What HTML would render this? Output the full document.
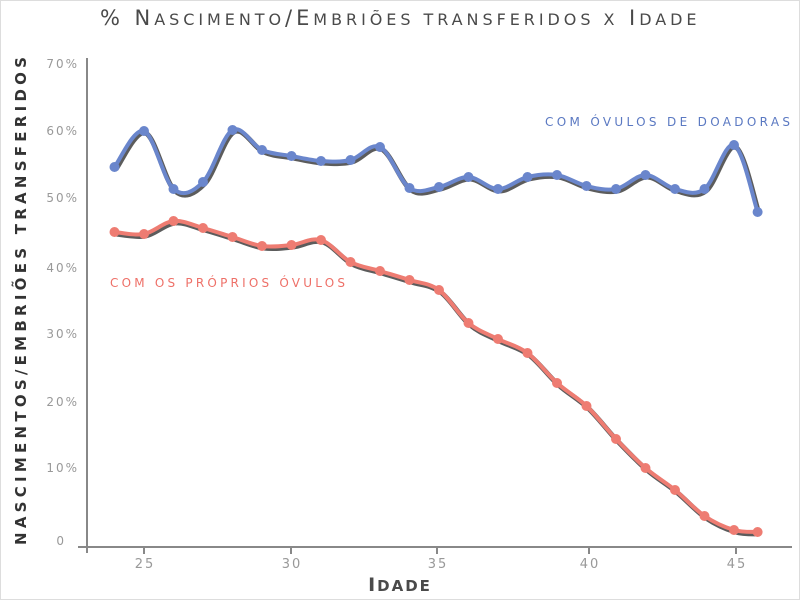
<!DOCTYPE html>
<html><head><meta charset="utf-8"><style>
body{margin:0;background:#fff}
svg{display:block}
text{font-family:"DejaVu Sans","Liberation Sans",sans-serif}
</style></head><body>
<svg id="s" width="800" height="600" viewBox="0 0 800 600" xmlns="http://www.w3.org/2000/svg">
<rect x="0.5" y="0.5" width="799" height="599" fill="#fff" stroke="#ddd"/>
<text x="400" y="25" text-anchor="middle" font-size="21" fill="#4a4a4a" letter-spacing="3.5" textLength="600" lengthAdjust="spacing">% N<tspan font-size="16">ASCIMENTO</tspan>/E<tspan font-size="16">MBRIÕES TRANSFERIDOS X</tspan> I<tspan font-size="16">DADE</tspan></text>
<g fill="#999" font-size="12" text-anchor="end" letter-spacing="2">
<text x="79" y="68">70%</text><text x="79" y="135">60%</text><text x="79" y="202">50%</text>
<text x="79" y="272">40%</text><text x="79" y="338">30%</text><text x="79" y="406">20%</text>
<text x="79" y="472">10%</text><text x="66" y="545">0</text></g>
<g fill="#999" font-size="13" text-anchor="middle" letter-spacing="2">
<text x="145" y="568">25</text><text x="292" y="568">30</text><text x="438" y="568">35</text>
<text x="590" y="568">40</text><text x="737" y="568">45</text></g>
<g stroke="#888" stroke-width="2"><line x1="87" y1="58" x2="87" y2="553"/><line x1="78" y1="547" x2="792" y2="547"/>
<line x1="144" y1="547" x2="144" y2="554"/><line x1="291" y1="547" x2="291" y2="554"/><line x1="437" y1="547" x2="437" y2="554"/><line x1="589" y1="547" x2="589" y2="554"/><line x1="736" y1="547" x2="736" y2="554"/></g>
<text x="400" y="591" text-anchor="middle" font-size="19" fill="#4a4a4a" letter-spacing="2" font-weight="bold">I<tspan font-size="15">DADE</tspan></text>
<text transform="translate(26,300) rotate(-90)" text-anchor="middle" font-size="15" font-weight="bold" fill="#333" letter-spacing="2" textLength="490" lengthAdjust="spacing">NASCIMENTOS/EMBRIÕES TRANSFERIDOS</text>
<text x="545" y="126" font-size="12" fill="#5b79c2" textLength="245" lengthAdjust="spacing">COM ÓVULOS DE DOADORAS</text>
<text x="110" y="287" font-size="12" fill="#ee7068" textLength="235" lengthAdjust="spacing">COM OS PRÓPRIOS ÓVULOS</text>
<g id="g"></g>
</svg>
<script>
var X=function(a){return 144+(a-25)*29.5};
var B=[[24,167],[25,131],[26,189],[27,182],[28,130],[29,150],[30,156],[31,161],[32,160],[33,147],[34,188],[35,187],[36,177],[37,189],[38,177],[39,175],[40,186],[41,189],[42,175],[43,189],[44,189],[45,145],[45.8,212]];
var R=[[24,232],[25,234],[26,221],[27,228],[28,237],[29,246],[30,245],[31,240],[32,262],[33,271],[34,280],[35,290],[36,323],[37,339],[38,353],[39,383],[40,406],[41,439],[42,468],[43,490],[44,516],[45,530],[45.8,532]];
function path(P){P=P.map(function(p){return[X(p[0]),p[1]]});var d="M"+P[0];for(var i=0;i<P.length-1;i++){var p0=P[i-1]||P[i],p1=P[i],p2=P[i+1],p3=P[i+2]||p2;d+=" C"+(p1[0]+(p2[0]-p0[0])/6)+","+(p1[1]+(p2[1]-p0[1])/6)+" "+(p2[0]-(p3[0]-p1[0])/6)+","+(p2[1]-(p3[1]-p1[1])/6)+" "+p2;}return[d,P]}
var h="";[[B,"#6a86cc"],[R,"#ee7c72"]].forEach(function(s){var r=path(s[0]);
h+='<path d="'+r[0]+'" fill="none" stroke="#333" stroke-width="5" transform="translate(1.5,2)" opacity="0.8"/>';
h+='<path d="'+r[0]+'" fill="none" stroke="'+s[1]+'" stroke-width="4"/>';
r[1].forEach(function(p){h+='<circle cx="'+p[0]+'" cy="'+p[1]+'" r="5" fill="'+s[1]+'"/>'});});
document.getElementById("g").innerHTML=h;
</script>
</body></html>
